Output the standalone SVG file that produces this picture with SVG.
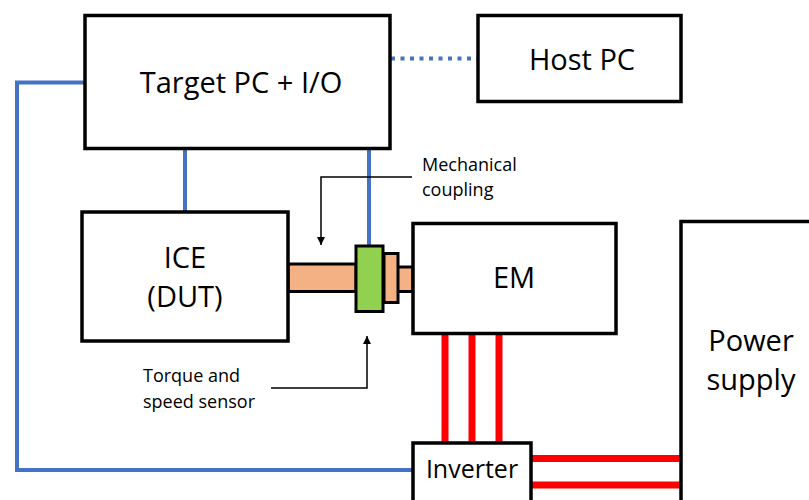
<svg xmlns="http://www.w3.org/2000/svg" width="809" height="500" viewBox="0 0 809 500">
<defs>
<style>
.box{fill:#fff;stroke:#000;stroke-width:3.5}
.t{font-family:"Open Sans","Noto Sans","Liberation Sans",sans-serif;fill:#000;text-anchor:middle}
.s{font-family:"Open Sans","Noto Sans","Liberation Sans",sans-serif;fill:#000;font-size:18px}
.blue{fill:none;stroke:#4472C4;stroke-width:4}
.red{fill:none;stroke:#FF0000;stroke-width:7}
.thin{fill:none;stroke:#000;stroke-width:1.5}
</style>
<marker id="ah" viewBox="0 0 10 10" refX="10" refY="5" markerWidth="8" markerHeight="8" markerUnits="userSpaceOnUse" orient="auto">
<path d="M0,0 L10,5 L0,10 z" fill="#000"/>
</marker>
</defs>
<rect width="809" height="500" fill="#fff"/>
<g id="connectors">
<line class="blue" x1="391" y1="58.5" x2="477" y2="58.5" stroke-dasharray="4 5.5"/>
<polyline class="blue" points="84,82.5 17,82.5 17,470 413,470"/>
<line class="blue" x1="185" y1="149" x2="185" y2="212"/>
<line class="blue" x1="369" y1="149" x2="369" y2="246"/>
<line class="red" x1="445" y1="335" x2="445" y2="443"/>
<line class="red" x1="472" y1="335" x2="472" y2="443"/>
<line class="red" x1="499" y1="335" x2="499" y2="443"/>
<line class="red" x1="532" y1="458.5" x2="681" y2="458.5"/>
<line class="red" x1="532" y1="485" x2="681" y2="485"/>
<polyline class="thin" points="412,177 321,177 321,245" marker-end="url(#ah)"/>
<polyline class="thin" points="271,388 367,388 367,336" marker-end="url(#ah)"/>
</g>
<g id="shaft">
<rect x="288" y="264" width="68" height="27.5" fill="#F4B183" stroke="#000" stroke-width="3"/>
<rect x="397" y="267" width="16" height="24.5" fill="#F4B183" stroke="#000" stroke-width="3"/>
<rect x="384" y="253.5" width="14" height="49" fill="#F4B183" stroke="#000" stroke-width="3"/>
</g>
<g id="sensor">
<rect x="356" y="246" width="27" height="65.5" fill="#92D050" stroke="#000" stroke-width="3"/>
</g>
<g id="target-pc">
<rect class="box" x="85" y="15.5" width="305" height="133"/>
<text class="t" x="241" y="93" font-size="29">Target PC + I/O</text>
</g>
<g id="host-pc">
<rect class="box" x="478" y="15.5" width="203" height="86"/>
<text class="t" x="582" y="70" font-size="29">Host PC</text>
</g>
<g id="ice">
<rect class="box" x="82" y="212" width="206" height="129"/>
<text class="t" x="185" y="268" font-size="29">ICE</text>
<text class="t" x="185" y="307" font-size="29">(DUT)</text>
</g>
<g id="em">
<rect class="box" x="413" y="223.5" width="203" height="110"/>
<text class="t" x="514" y="288" font-size="29">EM</text>
</g>
<g id="power-supply">
<rect class="box" x="681" y="221.5" width="140" height="290"/>
<text class="t" x="751" y="351" font-size="29">Power</text>
<text class="t" x="751" y="390" font-size="29">supply</text>
</g>
<g id="inverter">
<rect class="box" x="413" y="443" width="118" height="70"/>
<text class="t" x="472" y="478" font-size="25">Inverter</text>
</g>
<g id="labels">
<text class="s" x="422" y="171">Mechanical</text>
<text class="s" x="422" y="196">coupling</text>
<text class="s" x="143" y="382">Torque and</text>
<text class="s" x="143" y="408">speed sensor</text>
</g>
</svg>
